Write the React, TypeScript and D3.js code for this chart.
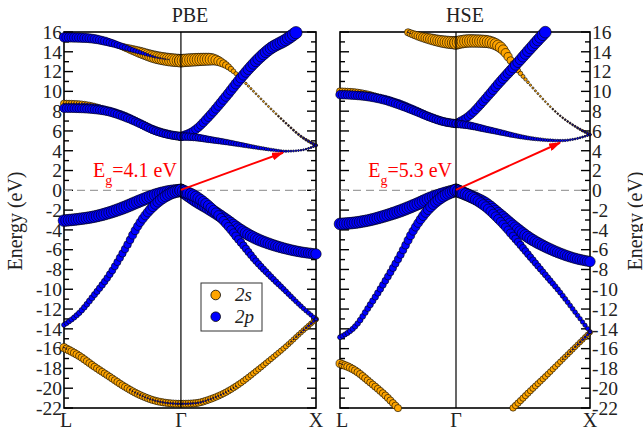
import React, { useMemo } from "react";
import * as d3 from "d3";

// fat-band plot: PBE vs HSE, circle size = 2s / 2p projection weight

// k path L -> Γ -> X (fraction of path length), Γ at index 8
const kPath = [0, 0.06, 0.12, 0.18, 0.24, 0.3, 0.36, 0.42, 0.464, 0.52, 0.58, 0.64, 0.7, 0.76, 0.82, 0.88, 0.94, 1];
const GAMMA = 8;
const kLabels = ["L", "Γ", "X"];
const kLabelPos = [0, 0.464, 1];
const energyTicks = d3.range(-22, 17, 1);

// ---- PBE ----
const pbeA = [15.46, 15.43, 15.3, 14.95, 14.45, 13.95, 13.47, 13.2, 13.1, 13.2, 13.25, 12.7, 11.35, 9.8, 8.26, 6.8, 5.46, 4.55];
const pbeAs = [0.1, 0.1, 0.15, 0.3, 0.55, 0.8, 0.92, 0.97, 0.97, 0.97, 0.92, 0.55, 0.22, 0.15, 0.15, 0.15, 0.18, 0.25];
const pbeAp = [0.72, 0.72, 0.68, 0.6, 0.45, 0.3, 0.15, 0.06, 0.04, 0.04, 0.04, 0.04, 0.04, 0.04, 0.06, 0.08, 0.12, 0.18];

const pbeB1 = [8.76, 8.73, 8.56, 8.15, 7.55, 6.8, 6.07, 5.63, 5.45, 6.1, 7.6, 9.4, 11.3, 13.0, 14.35, 15.2, 16.3, 17.4];
const pbeB1s = [0.55, 0.5, 0.38, 0.22, 0.12, 0.08, 0.05, 0.04, 0.04, 0.04, 0.04, 0.04, 0.04, 0.04, 0.04, 0.04, 0.04, 0.04];
const pbeB1p = [0.1, 0.14, 0.25, 0.42, 0.55, 0.6, 0.62, 0.62, 0.62, 0.65, 0.7, 0.75, 0.8, 0.85, 0.9, 0.93, 0.95, 0.95];

const pbeB2 = [8.3, 8.27, 8.17, 7.92, 7.41, 6.74, 6.03, 5.6, 5.45, 5.36, 5.12, 4.89, 4.62, 4.35, 4.11, 3.95, 4.05, 4.52];
const pbeB2s = [0.04, 0.04, 0.04, 0.04, 0.04, 0.04, 0.04, 0.04, 0.04, 0.04, 0.04, 0.04, 0.04, 0.04, 0.04, 0.04, 0.08, 0.15];
const pbeB2p = [0.65, 0.65, 0.65, 0.64, 0.62, 0.6, 0.6, 0.6, 0.62, 0.57, 0.5, 0.44, 0.37, 0.3, 0.24, 0.18, 0.14, 0.15];

const pbeV1 = [-3.06, -2.9, -2.66, -2.26, -1.72, -1.08, -0.5, -0.12, 0, -1.0, -1.92, -2.93, -4.0, -4.85, -5.45, -5.9, -6.23, -6.43];
const pbeV1s = [0, 0, 0, 0, 0, 0, 0, 0, 0, 0, 0, 0, 0, 0, 0, 0, 0, 0];
const pbeV1p = [0.9, 0.9, 0.9, 0.92, 0.95, 0.95, 0.95, 0.95, 0.95, 0.95, 0.95, 0.92, 0.9, 0.88, 0.85, 0.82, 0.8, 0.8];

const pbeV2 = [-13.6, -12.4, -10.57, -8.55, -6.03, -3.33, -1.48, -0.37, 0, -0.6, -1.7, -3.3, -5.2, -7.1, -8.7, -10.2, -11.7, -13.03];
const pbeV2s = [0.12, 0.06, 0.03, 0, 0, 0, 0, 0, 0, 0, 0, 0, 0, 0, 0, 0.04, 0.1, 0.2];
const pbeV2p = [0.38, 0.42, 0.48, 0.53, 0.58, 0.65, 0.78, 0.88, 0.95, 0.88, 0.78, 0.68, 0.6, 0.52, 0.46, 0.4, 0.36, 0.32];

const pbeS = [-15.9, -16.73, -17.81, -18.82, -19.83, -20.67, -21.25, -21.52, -21.58, -21.52, -21.11, -20.44, -19.49, -18.32, -17.07, -15.79, -14.38, -13.03];
const pbeSs = [0.62, 0.58, 0.55, 0.55, 0.55, 0.55, 0.55, 0.55, 0.55, 0.55, 0.52, 0.5, 0.48, 0.45, 0.42, 0.4, 0.38, 0.4];
const pbeSp = [0.08, 0.04, 0.04, 0.04, 0.06, 0.1, 0.12, 0.14, 0.15, 0.14, 0.12, 0.1, 0.06, 0.04, 0.04, 0.06, 0.12, 0.22];

// ---- HSE ----
const hseA = [18.5, 18.0, 17.4, 16.8, 16.3, 15.7, 15.3, 15.0, 14.9, 15.1, 15.05, 14.5, 12.5, 10.68, 9.0, 7.55, 6.47, 5.63];
const hseAs = [0.3, 0.33, 0.38, 0.45, 0.5, 0.6, 0.8, 0.92, 0.97, 0.97, 0.95, 0.85, 0.45, 0.18, 0.14, 0.14, 0.16, 0.22];
const hseAp = [0.1, 0.1, 0.1, 0.1, 0.1, 0.06, 0.04, 0.04, 0.04, 0.04, 0.04, 0.04, 0.04, 0.04, 0.06, 0.08, 0.12, 0.16];

const hseB1 = [10.0, 9.94, 9.74, 9.33, 8.76, 8.09, 7.41, 6.91, 6.74, 7.6, 9.2, 10.95, 12.6, 14.3, 15.95, 17.5, 19.0, 20.5];
const hseB1s = [0.55, 0.5, 0.38, 0.22, 0.12, 0.08, 0.05, 0.04, 0.04, 0.04, 0.04, 0.04, 0.04, 0.04, 0.04, 0.04, 0.04, 0.04];
const hseB1p = [0.1, 0.14, 0.25, 0.42, 0.55, 0.6, 0.62, 0.62, 0.62, 0.65, 0.7, 0.75, 0.8, 0.85, 0.9, 0.93, 0.95, 0.95];

const hseB2 = [9.67, 9.6, 9.43, 9.1, 8.59, 7.99, 7.38, 6.91, 6.74, 6.54, 6.2, 5.87, 5.53, 5.26, 5.09, 5.02, 5.19, 5.63];
const hseB2s = [0.04, 0.04, 0.04, 0.04, 0.04, 0.04, 0.04, 0.04, 0.04, 0.04, 0.04, 0.04, 0.04, 0.04, 0.04, 0.04, 0.08, 0.15];
const hseB2p = [0.65, 0.65, 0.65, 0.64, 0.62, 0.6, 0.6, 0.6, 0.62, 0.57, 0.5, 0.44, 0.37, 0.3, 0.24, 0.2, 0.16, 0.15];

const hseV1 = [-3.4, -3.27, -3.0, -2.59, -2.09, -1.48, -0.81, -0.3, 0, -0.57, -1.31, -2.49, -3.74, -4.85, -5.69, -6.36, -6.87, -7.2];
const hseV1s = [0, 0, 0, 0, 0, 0, 0, 0, 0, 0, 0, 0, 0, 0, 0, 0, 0, 0];
const hseV1p = [0.9, 0.9, 0.9, 0.92, 0.95, 0.95, 0.95, 0.95, 0.95, 0.95, 0.95, 0.92, 0.9, 0.88, 0.85, 0.82, 0.8, 0.8];

const hseV2 = [-14.85, -13.77, -11.6, -9.2, -6.6, -3.8, -1.75, -0.5, 0, -0.6, -1.6, -3.1, -4.85, -6.7, -8.5, -10.3, -12.3, -14.3];
const hseV2s = [0.12, 0.06, 0.03, 0, 0, 0, 0, 0, 0, 0, 0, 0, 0, 0, 0, 0.04, 0.1, 0.2];
const hseV2p = [0.38, 0.42, 0.48, 0.53, 0.58, 0.65, 0.78, 0.88, 0.95, 0.88, 0.78, 0.68, 0.6, 0.52, 0.46, 0.4, 0.36, 0.32];

const hseS = [-17.5, -18.2, -19.4, -20.7, -22.2, -23.4, -24.3, -24.8, -24.9, -24.7, -24.2, -23.2, -21.8, -20.3, -18.85, -17.35, -15.85, -14.35];
const hseSs = [0.62, 0.58, 0.55, 0.55, 0.55, 0.55, 0.55, 0.55, 0.55, 0.55, 0.52, 0.5, 0.5, 0.48, 0.45, 0.42, 0.4, 0.4];
const hseSp = [0.08, 0.04, 0.04, 0.04, 0.04, 0.04, 0.04, 0.04, 0.04, 0.04, 0.04, 0.04, 0.04, 0.04, 0.04, 0.06, 0.12, 0.22];

// gap arrows: VBM at Γ -> CBM near X  [k, E]
const pbeArrowEnd = [0.869, 3.8];
const hseArrowEnd = [0.88, 4.81];
const pbeGap = "4.1";
const hseGap = "5.3";

type Band = { E: number[]; s: number[]; p: number[] };

const pbeBands: Band[] = [
  { E: pbeA, s: pbeAs, p: pbeAp },
  { E: pbeB1, s: pbeB1s, p: pbeB1p },
  { E: pbeB2, s: pbeB2s, p: pbeB2p },
  { E: pbeV1, s: pbeV1s, p: pbeV1p },
  { E: pbeV2, s: pbeV2s, p: pbeV2p },
  { E: pbeS, s: pbeSs, p: pbeSp },
];
const hseBands: Band[] = [
  { E: hseA, s: hseAs, p: hseAp },
  { E: hseB1, s: hseB1s, p: hseB1p },
  { E: hseB2, s: hseB2s, p: hseB2p },
  { E: hseV1, s: hseV1s, p: hseV1p },
  { E: hseV2, s: hseV2s, p: hseV2p },
  { E: hseS, s: hseSs, p: hseSp },
];

const FONT = "'Liberation Serif', 'Times New Roman', serif";
const ORANGE = "#ffa500";
const BLUE = "#0000ff";
const Y_TOP = 32;
const Y_BOT = 408;
const E_MIN = -22;
const E_MAX = 16;
const R_MAX = 6.5;
const DK = 0.01;

const y = d3.scaleLinear().domain([E_MIN, E_MAX]).range([Y_BOT, Y_TOP]);

// flatten d3's monotone curve into a dense polyline so markers can sit on it
function curvePoints(pts: [number, number][]) {
  const out: [number, number][] = [];
  let cx = 0, cy = 0;
  const steps = 24;
  const ctx: any = {
    moveTo(x: number, yy: number) { cx = x; cy = yy; out.push([x, yy]); },
    lineTo(x: number, yy: number) {
      for (let i = 1; i <= steps; i++) { const s = i / steps; out.push([cx + (x - cx) * s, cy + (yy - cy) * s]); }
      cx = x; cy = yy;
    },
    bezierCurveTo(x1: number, y1: number, x2: number, y2: number, x: number, yy: number) {
      for (let i = 1; i <= steps; i++) {
        const s = i / steps, u = 1 - s;
        out.push([
          u * u * u * cx + 3 * u * u * s * x1 + 3 * u * s * s * x2 + s * s * s * x,
          u * u * u * cy + 3 * u * u * s * y1 + 3 * u * s * s * y2 + s * s * s * yy,
        ]);
      }
      cx = x; cy = yy;
    },
    closePath() {},
  };
  d3.line().curve(d3.curveMonotoneX).context(ctx)(pts);
  return out;
}

const bis = d3.bisector((d: [number, number]) => d[0]).left;
function yAt(curve: [number, number][], px: number) {
  const i = Math.max(1, Math.min(curve.length - 1, bis(curve, px)));
  const a = curve[i - 1], b = curve[i];
  const f = b[0] === a[0] ? 0 : (px - a[0]) / (b[0] - a[0]);
  return a[1] + (b[1] - a[1]) * f;
}

type Mark = { cx: number; cy: number; s: number; p: number };

function bandMarks(band: Band, x: d3.ScaleLinear<number, number>): Mark[] {
  const out: Mark[] = [];
  const segs: [number, number][] = [[0, GAMMA], [GAMMA, kPath.length - 1]];
  for (const [i0, i1] of segs) {
    const ks = kPath.slice(i0, i1 + 1);
    const es = band.E.slice(i0, i1 + 1);
    const curve = curvePoints(ks.map((k, i) => [x(k), y(es[i])] as [number, number]));
    const sW = d3.scaleLinear().domain(ks).range(band.s.slice(i0, i1 + 1));
    const pW = d3.scaleLinear().domain(ks).range(band.p.slice(i0, i1 + 1));
    const k0 = ks[0], k1 = ks[ks.length - 1];
    const n = Math.round((k1 - k0) / DK);
    for (let j = 0; j <= n; j++) {
      const k = k0 + ((k1 - k0) * j) / n;
      const px = x(k);
      const py = yAt(curve, px);
      const e = y.invert(py);
      if (e > E_MAX + 0.05 || e < E_MIN - 0.05) continue;
      out.push({ cx: px, cy: py, s: sW(k), p: pW(k) });
    }
  }
  return out;
}

type PanelProps = {
  title: string;
  x0: number;
  x1: number;
  bands: Band[];
  arrowEnd: number[];
  gap: string;
  side: "left" | "right";
};

function Panel({ title, x0, x1, bands, arrowEnd, gap, side }: PanelProps) {
  const x = d3.scaleLinear().domain([0, 1]).range([x0, x1]);
  const marks = useMemo(() => bands.map((b) => bandMarks(b, x)), [bands, x0, x1]);
  const gx = x(kPath[GAMMA]);
  const minR = 0.45;

  return (
    <g>
      {/* frame */}
      <rect x={x0} y={Y_TOP} width={x1 - x0} height={Y_BOT - Y_TOP} fill="none" stroke="#000" strokeWidth={1.6} />
      {energyTicks.map((v) => {
        const len = v % 2 === 0 ? 9 : 5;
        const yy = y(v);
        return (
          <g key={v}>
            <line x1={x0} x2={x0 + len} y1={yy} y2={yy} stroke="#000" strokeWidth={1.4} />
            <line x1={x1} x2={x1 - len} y1={yy} y2={yy} stroke="#000" strokeWidth={1.4} />
          </g>
        );
      })}
      {energyTicks.filter((v) => v % 2 === 0).map((v) => (
        <text
          key={"l" + v}
          x={side === "left" ? x0 - 2 : x1 + 2}
          y={y(v) + 6.8}
          textAnchor={side === "left" ? "end" : "start"}
          fontSize={19.5}
          fontFamily={FONT}
          fill="#222"
        >
          {v < 0 ? "-" + Math.abs(v) : v}
        </text>
      ))}
      {/* Fermi level */}
      <line x1={x0} x2={x1} y1={y(0)} y2={y(0)} stroke="#a0a0a0" strokeWidth={1.2} strokeDasharray="8,5" />

      {/* 2s first, 2p on top */}
      {marks.map((ms, bi) =>
        ms.map((m, i) => {
          const r = m.s * R_MAX;
          return r < minR ? null : (
            <circle key={`s${bi}-${i}`} cx={m.cx} cy={m.cy} r={r} fill={ORANGE} stroke="#000" strokeWidth={0.6} />
          );
        })
      )}
      {marks.map((ms, bi) =>
        ms.map((m, i) => {
          const r = m.p * R_MAX;
          return r < minR ? null : (
            <circle key={`p${bi}-${i}`} cx={m.cx} cy={m.cy} r={r} fill={BLUE} stroke="#000" strokeWidth={0.6} />
          );
        })
      )}

      <line x1={gx} x2={gx} y1={Y_TOP} y2={Y_BOT} stroke="#000" strokeWidth={1.2} />

      {/* gap arrow */}
      <line
        x1={gx}
        y1={y(0.05)}
        x2={x(arrowEnd[0])}
        y2={y(arrowEnd[1])}
        stroke="#ff0000"
        strokeWidth={2}
        markerEnd="url(#arrowRed)"
      />
      <text x={gx - 4} y={176.5} textAnchor="end" fontSize={20} fontFamily={FONT} fill="#ff0000">
        <tspan>E</tspan>
        <tspan dy={8} fontSize={14}>g</tspan>
        <tspan dy={-8}>{"=" + gap + " eV"}</tspan>
      </text>

      <text x={(x0 + x1) / 2} y={21.7} textAnchor="middle" fontSize={20} fontFamily={FONT} fill="#222">
        {title}
      </text>
      {kLabels.map((lab, i) => (
        <text
          key={lab}
          x={x(kLabelPos[i]) + (i === 0 ? 2 : 0)}
          y={426.5}
          textAnchor="middle"
          fontSize={20}
          fontFamily={FONT}
          fill="#222"
        >
          {lab}
        </text>
      ))}
    </g>
  );
}

export default function App() {
  return (
    <svg
      width={643}
      height={431}
      style={{ position: "absolute", left: 0, top: 0, background: "#fff" }}
    >
      <defs>
        <marker
          id="arrowRed"
          markerUnits="userSpaceOnUse"
          markerWidth={12}
          markerHeight={8}
          refX={11}
          refY={4}
          orient="auto"
        >
          <path d="M0,0 L12,4 L0,8 z" fill="#ff0000" />
        </marker>
      </defs>
      <Panel title="PBE" x0={64} x1={316} bands={pbeBands} arrowEnd={pbeArrowEnd} gap={pbeGap} side="left" />
      <Panel title="HSE" x0={340} x1={590} bands={hseBands} arrowEnd={hseArrowEnd} gap={hseGap} side="right" />

      <text transform="translate(21.5,221) rotate(-90)" textAnchor="middle" fontSize={20} fontFamily={FONT} fill="#222">
        Energy (eV)
      </text>
      <text transform="translate(642,221) rotate(-90)" textAnchor="middle" fontSize={20} fontFamily={FONT} fill="#222">
        Energy (eV)
      </text>

      {/* legend */}
      <rect x={201} y={283} width={61} height={48} fill="#fff" stroke="#333" strokeWidth={1} />
      <circle cx={215.7} cy={295} r={4.8} fill={ORANGE} stroke="#000" strokeWidth={0.8} />
      <circle cx={215.7} cy={316.7} r={4.8} fill={BLUE} stroke="#000" strokeWidth={0.8} />
      <text x={235} y={301} fontSize={19} fontFamily={FONT} fontStyle="italic" fill="#222">2s</text>
      <text x={235} y={322.7} fontSize={19} fontFamily={FONT} fontStyle="italic" fill="#222">2p</text>
    </svg>
  );
}
